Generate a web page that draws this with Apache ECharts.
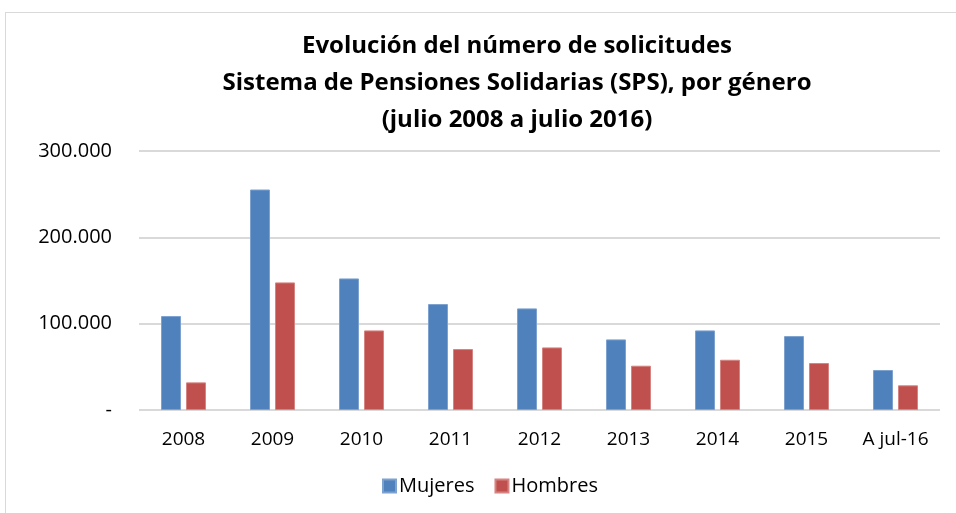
<!DOCTYPE html>
<html>
<head>
<meta charset="utf-8">
<script src="https://cdn.jsdelivr.net/npm/echarts@6/dist/echarts.min.js"></script>
<style>
  html, body { margin: 0; padding: 0; background: #fff; }
  #frame { position: absolute; left: 5px; top: 12px; width: 1000px; height: 600px;
    border-top: 1px solid #d9d9d9; border-left: 1px solid #d9d9d9; }
  #chart { position: absolute; left: 0; top: 0; width: 956px; height: 513px; }
</style>
</head>
<body>
<div id="frame"></div>
<div id="chart"></div>
<script>
const categories = ['2008', '2009', '2010', '2011', '2012', '2013', '2014', '2015', 'A jul-16']
const mujeres = [108800, 255400, 152400, 122700, 117700, 81800, 92200, 85600, 46300]
const hombres = [32000, 147800, 92200, 70600, 72500, 51300, 58200, 54400, 28600]
const yTicks = [0, 100000, 200000, 300000]
const titleLines = [
  'Evolución del número de solicitudes',
  'Sistema de Pensiones Solidarias (SPS), por género',
  '(julio 2008 a julio 2016)'
]

const font = '"Open Sans", sans-serif'

function fmt (v) {
  if (v === 0) return '-'
  return String(v).replace(/\B(?=(\d{3})+(?!\d))/g, '.')
}

let chart = echarts.init(document.getElementById('chart'))
chart.setOption({
  animation: false,
  textStyle: { fontFamily: font },
  graphic: titleLines.map(function (t, i) {
    return {
      type: 'text',
      x: 517,
      y: 46 + i * 37,
      style: {
        text: t,
        fontFamily: font,
        fontSize: 24,
        fontWeight: 'bold',
        fill: '#000',
        align: 'center',
        verticalAlign: 'middle'
      }
    }
  }),
  legend: {
    data: ['Mujeres', 'Hombres'],
    left: 377,
    top: 471,
    itemWidth: 13,
    itemHeight: 13,
    itemGap: 20,
    icon: 'rect',
    textStyle: { fontFamily: font, fontSize: 20, color: '#000', padding: [0, 0, 0, -2] }
  },
  grid: { left: 139, right: 16, top: 151, bottom: 103 },
  xAxis: {
    type: 'category',
    data: categories,
    axisLine: { show: false },
    axisTick: { show: false },
    axisLabel: { interval: 0, fontFamily: font, fontSize: 19, color: '#000', margin: 20 }
  },
  yAxis: {
    type: 'value',
    min: yTicks[0],
    max: yTicks[yTicks.length - 1],
    interval: 100000,
    axisLine: { show: false },
    axisTick: { show: false },
    axisLabel: { fontFamily: font, fontSize: 20, color: '#000', margin: 27, formatter: fmt },
    splitLine: { lineStyle: { color: '#d9d9d9', width: 2 } }
  },
  series: [{
    name: 'Mujeres',
    type: 'bar',
    data: mujeres,
    barWidth: 20,
    barGap: '25%',
    itemStyle: { color: '#4f81bd', borderColor: '#7da2cf', borderWidth: 1 }
  }, {
    name: 'Hombres',
    type: 'bar',
    data: hombres,
    barWidth: 20,
    itemStyle: { color: '#c0504d', borderColor: '#d58481', borderWidth: 1 }
  }]
})
</script>
</body>
</html>
